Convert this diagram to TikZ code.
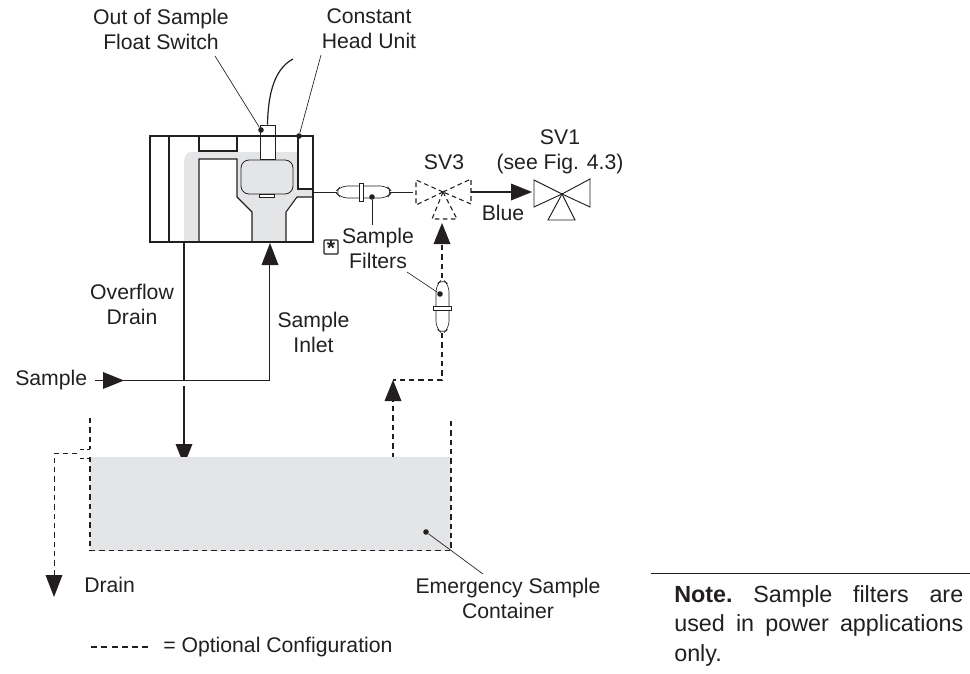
\documentclass[tikz,border=0pt]{standalone}
\usepackage{fontspec}
\setmainfont{Liberation Sans}
\definecolor{ink}{HTML}{231F20}
\definecolor{tankgray}{HTML}{E4E5E7}
\tikzset{
  x=0.75pt,y=-0.75pt,
  lab/.style={font=\fontsize{15.9}{18.75}\selectfont,text=ink,align=center,inner sep=0pt},
  wall/.style={draw=ink,line width=1.1pt},
  thin wall/.style={draw=ink,line width=0.8pt},
  pipe/.style={draw=ink,line width=0.8pt},
  opt/.style={draw=ink,line width=0.9pt,dash pattern=on 4pt off 3pt},
  optthin/.style={draw=ink,line width=0.8pt,dash pattern=on 3.5pt off 2.5pt},
  leader/.style={draw=ink,line width=0.5pt},
  tip/.style={fill=ink},
  dot/.style={circle,fill=ink,inner sep=0pt,minimum size=4.2pt},
}
\begin{document}
\begin{tikzpicture}
\useasboundingbox (0,0) rectangle (970,674);
% constant head unit: grey water body
\fill[tankgray] (184,242) -- (184,165) .. controls (184,156) and (186,152) .. (192,152) -- (298,152) -- (298,189) -- (313,189) -- (313,197) -- (297,197) -- (286,212) -- (286,242) -- (252,242) -- (252,212) -- (237,197) -- (237,159) -- (199,159) -- (199,242) -- cycle;
\draw[thin wall] (169,136) -- (169,242);
\draw[thin wall] (199,242) -- (199,159) -- (237,159) -- (237,197) -- (252,212) -- (252,242);
\draw[thin wall] (286,242) -- (286,212) -- (297,197) -- (313,197);
\draw[thin wall] (199,136) -- (199,151) -- (237,151) -- (237,136);
\draw[thin wall] (298,136) -- (298,189) -- (313,189);
\node[draw=ink,line width=0.6pt,fill=tankgray,rounded corners=6pt,minimum width=39pt,minimum height=25.5pt,inner sep=0pt] (bowl) at (267,177) {};
\node[draw=ink,line width=0.5pt,fill=white,minimum width=11pt,minimum height=2.2pt,inner sep=0pt] (baffle) at (266.5,195.5) {};
\node[draw=ink,line width=0.7pt,fill=white,minimum width=11.25pt,minimum height=25.5pt,inner sep=0pt] (float) at (267.5,142) {};
\node[wall,minimum width=122pt,minimum height=79.5pt,inner sep=0pt] (chu) at (231.5,189) {};
\coordinate (cabletop) at (293,59);
\draw[draw=ink,line width=0.9pt] (float.north) .. controls (268,100) and (272,70) .. (cabletop);
% sample filter 1
\coordinate (out) at (313,192);
\coordinate (sv3apex) at (443,192);
\draw[pipe,line width=0.5pt] (out) -- (337,192);
\draw[pipe,line width=0.5pt] (390,192) -- (413,192);
\draw[leader,fill=white,rounded corners=5pt] (335,192) -- (341,186) -- (387,186) -- (392,192) -- (387,198) -- (341,198) -- cycle;
\node[draw=ink,line width=0.5pt,fill=white,minimum width=3pt,minimum height=13.5pt,inner sep=0pt] (flange1) at (361,192) {};
\node[dot] (d1) at (372,197) {};
\coordinate (l1) at (372,225);
\draw[leader] (d1) -- (l1);
% SV3
\draw[optthin] (sv3apex) -- (416,180) -- (416,205) -- cycle;
\draw[optthin] (sv3apex) -- (471,179) -- (471,204) -- cycle;
\draw[optthin] (sv3apex) -- (457,219) -- (432,219) -- cycle;
% SV1
\coordinate (sv1apex) at (562,194);
\draw[draw=ink,line width=0.7pt] (sv1apex) -- (534,180) -- (534,207) -- cycle;
\draw[draw=ink,line width=0.7pt] (sv1apex) -- (590,179) -- (590,207) -- cycle;
\draw[draw=ink,line width=0.7pt] (sv1apex) -- (575,220) -- (548,220) -- cycle;
% SV3 to SV1
\draw[pipe] (471,192) -- (511,192);
\fill[tip] (532,192) -- (511,183.5) -- (511,200.5) -- cycle;
% dashed from tank to SV3
\coordinate (f2top) at (442,281);
\coordinate (f2bot) at (442,333);
\fill[tip] (442,223) -- (433.5,244) -- (450.5,244) -- cycle;
\draw[opt] (442,245) -- (f2top);
\draw[opt] (f2bot) -- (442,380) -- (393,380);
\draw[opt] (393,458) -- (393,401);
\fill[tip] (393,380) -- (384.5,401) -- (401.5,401) -- cycle;
% filter 2
\draw[leader,fill=white,rounded corners=5pt] (442.5,279) -- (449,285) -- (449,328) -- (442.5,334) -- (436,328) -- (436,285) -- cycle;
\node[draw=ink,line width=0.5pt,fill=white,minimum width=13.5pt,minimum height=3pt,inner sep=0pt] (flange2) at (442.5,308) {};
\node[dot] (d2) at (440,294) {};
\coordinate (l2) at (407,272);
\draw[leader] (d2) -- (l2);
% drain and inlet pipes
\draw[pipe] (184,242) -- (184,381);
\draw[pipe] (184,386) -- (184,444);
\fill[tip] (175.5,444) -- (192.5,444) -- (184,465) -- cycle;
\draw[pipe] (95,380.5) -- (269.5,380.5) -- (269.5,265);
\fill[tip] (270,243) -- (261.5,265) -- (278.5,265) -- cycle;
\fill[tip] (124,380.5) -- (103,372) -- (103,389) -- cycle;
% tank
\fill[tankgray] (90,457) rectangle (451,550.5);
\draw[opt] (90,418) -- (90,449);
\draw[opt] (90,457) -- (90,550.5) -- (451,550.5) -- (451,418);
\draw[opt,line width=0.7pt] (54,575) -- (54,453) -- (80,453);
\draw[ink,line width=0.7pt,dash pattern=on 3pt off 2pt] (80,449) -- (90,449);
\draw[ink,line width=0.7pt,dash pattern=on 3pt off 2pt] (80,458) -- (90,458);
\fill[tip] (45.5,575) -- (62.5,575) -- (54,597) -- cycle;
\node[dot] (d3) at (426,532) {};
\coordinate (l3) at (483,574);
\draw[leader] (d3) -- (l3);
% leaders of top labels
\node[dot] (d4) at (261,130) {};
\node[dot] (d5) at (299,136) {};
\coordinate (l4) at (215,56);
\coordinate (l5) at (321,55);
\draw[leader] (d4) -- (l4);
\draw[leader] (d5) -- (l5);
% labels
\node[lab] (t1) at (161,29) {Out of Sample\\Float Switch};
\node[lab] (t2) at (369,29) {Constant\\Head Unit};
\node[lab] (t3) at (444,162) {SV3};
\node[lab] (t4) at (560,152) {SV1\\(see Fig. 4.3)};
\node[lab] (t5) at (503,213) {Blue};
\node[lab] (t6) at (378,248) {Sample\\Filters};
\node[draw=ink,line width=0.9pt,rounded corners=0.8pt,minimum size=10.5pt,inner sep=0pt,text=ink] (star) at (331,247) {\fontsize{16}{16}\selectfont\bfseries\raisebox{-6.5pt}[0pt][0pt]{*}};
\node[lab] (t7) at (132,304) {Overflow\\Drain};
\node[lab] (t8) at (313.5,332) {Sample\\Inlet};
\node[lab,anchor=west] (t9) at (15,380) {Sample};
\node[lab,anchor=west] (t10) at (84,585) {Drain};
\node[lab] (t11) at (508,598) {Emergency Sample\\Container};
\draw[draw=ink,line width=0.8pt,dash pattern=on 4.6pt off 3.1pt] (91,647) -- (149,647);
\node[lab,anchor=west] (t12) at (163,647) {= Optional Configuration};
% note
\coordinate (r1) at (651,573);
\coordinate (r2) at (970,573);
\draw[draw=ink,line width=0.7pt] (r1) -- (r2);
\node[anchor=north west,inner sep=0pt,text width=216.75pt,text=ink,font=\fontsize{17.5}{22.2}\selectfont,align=left] (note) at (674,585) {\leavevmode\hbox to 216.75pt{\textbf{Note.}\hfill Sample\hfill filters\hfill are}\\ \leavevmode\hbox to 216.75pt{used\hfill in\hfill power\hfill applications}\\ only.};
\end{tikzpicture}
\end{document}
